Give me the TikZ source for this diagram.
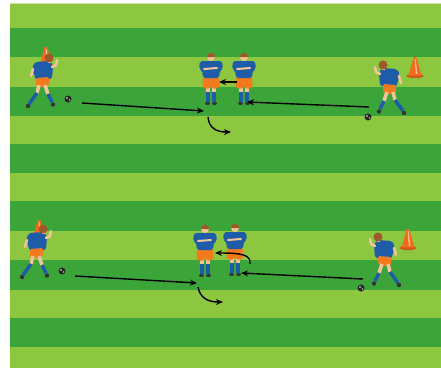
\documentclass[tikz,border=0pt]{standalone}
\usetikzlibrary{arrows.meta}
\definecolor{grasslight}{HTML}{8DC63F}
\definecolor{grassdark}{HTML}{3CA53A}
\definecolor{kitblue}{HTML}{1F5CA8}
\definecolor{kitorange}{HTML}{F47A20}
\definecolor{skin}{HTML}{F3C49C}
\definecolor{hair}{HTML}{9C5A2A}
\definecolor{conecol}{HTML}{F26A1B}
\tikzset{
  pass/.style={-{Stealth[length=7pt,width=6pt]},line width=1.4pt,black},
  playerback/.pic={
    \fill[kitblue,rounded corners=2pt] (-14,4) -- (1,3) -- (4,8) -- (3,21) -- (-13,22) -- (-17,10) -- cycle;
    \draw[skin,line width=2.5pt,line cap=round] (3,9) -- (7,7) -- (8,2);
    \draw[skin,line width=2.5pt,line cap=round] (-16,11) -- (-18,18);
    \fill[kitorange,rounded corners=1.5pt] (-13,20) -- (0,19) -- (0,27) -- (-6,29.5) -- (-13,28.5) -- cycle;
    \draw[skin,line width=3.5pt] (-10,27) -- (-12,35);
    \draw[kitblue,line width=3.5pt] (-12,35) -- (-20,46);
    \draw[skin,line width=3.5pt] (-4,27) -- (-1,36);
    \draw[kitblue,line width=3.5pt] (-1,36) -- (3,44);
    \fill[black!80] (-21,48) circle (2.2);
    \fill[black!80] (4,46.5) circle (2.2);
    \fill[skin] (-1.5,2) rectangle (1.5,5);
    \fill[hair] (0,0) circle (4.5);
  },
  playerfront/.pic={
    \draw[skin,line width=3.5pt] (-3,30) -- (-3,35) (3,30) -- (3,35);
    \draw[kitblue,line width=3.5pt] (-3,35) -- (-3,45) (3,35) -- (3,45);
    \fill[black!80] (-3.5,46.5) ellipse (2.5 and 1.5);
    \fill[black!80] (3.5,46.5) ellipse (2.5 and 1.5);
    \fill[kitorange,rounded corners=2pt] (-8,20) -- (8,20) -- (8.5,31) -- (1,32) -- (0,28) -- (-1,32) -- (-8.5,31) -- cycle;
    \fill[kitblue,rounded corners=2pt] (-11,4) -- (11,4) -- (12,12) -- (9,13) -- (8,21) -- (-8,21) -- (-9,13) -- (-12,12) -- cycle;
    \draw[skin,line width=2pt,line cap=round] (-7,12) -- (6,11);
    \fill[skin] (0,0) circle (4);
    \fill[hair] (-4.3,0) arc (180:360:4.3) -- cycle;
  },
  soccerball/.pic={
    \fill[black!85] (0,0) circle (3.5);
    \fill[white!70!black] (-1,-1) circle (1.2);
    \fill[white!70!black] (1.5,1) circle (0.8);
  },
  fieldcone/.pic={
    \fill[conecol!85!black] (0,19) ellipse (8.5 and 2.2);
    \fill[conecol] (-1.2,0) -- (1.2,0) -- (6.5,18.5) -- (-6.5,18.5) -- cycle;
    \fill[conecol!45!white] (-0.3,2) -- (0.6,2) -- (2.5,17) -- (0.8,17) -- cycle;
  }
}
\begin{document}
\begin{tikzpicture}[x=1pt,y=-1pt]
\useasboundingbox (0,0) rectangle (441,368);
\fill[white] (0,0) rectangle (441,368);
\fill[grasslight] (10,3) rectangle (441,368);
\foreach \a/\b in {28/57, 87/116, 144/173, 201/231, 260/290, 318/347}{
    \fill[grassdark] (10,\a) rectangle (441,\b);
}
\draw[grasslight!45!white,line width=1pt] (10,3.5) -- (441,3.5);
\foreach \Point in {(46,47), (415,57), (39,220), (408,229)}{
    \pic at \Point {fieldcone};
}
\pic at (49,58) {playerback};
\pic[xscale=-1] at (383,65) {playerback};
\pic at (43,229) {playerback};
\pic[xscale=-1] at (378,237) {playerback};
\foreach \Point in {(211,57), (244,57), (205,229), (235,228)}{
    \pic at \Point {playerfront};
}
\foreach \Point in {(68,99), (368,117), (62,271), (361,288)}{
    \pic at \Point {soccerball};
}
\coordinate (t1s) at (82,103);
\coordinate (t1e) at (204,111);
\coordinate (t2s) at (369,107);
\coordinate (t2e) at (247,102);
\coordinate (t3s) at (237,82);
\coordinate (t3e) at (219,82);
\coordinate (t4s) at (208,117);
\coordinate (t4e) at (231,132);
\coordinate (b1s) at (75,276);
\coordinate (b1e) at (197,283);
\coordinate (b2s) at (363,279);
\coordinate (b2e) at (241,273);
\coordinate (b3s) at (250,264);
\coordinate (b3e) at (215,253);
\coordinate (b4s) at (198,287);
\coordinate (b4e) at (223,302);
\draw[pass] (t1s) -- (t1e);
\draw[pass] (t2s) -- (t2e);
\draw[pass] (t3s) -- (t3e);
\draw[pass] (t4s) .. controls (209,128) and (216,132) .. (t4e);
\draw[pass] (b1s) -- (b1e);
\draw[pass] (b2s) -- (b2e);
\draw[pass] (b3s) .. controls (251,255) and (243,253) .. (b3e);
\draw[pass] (b4s) .. controls (200,298) and (208,302) .. (b4e);
\end{tikzpicture}
\end{document}
